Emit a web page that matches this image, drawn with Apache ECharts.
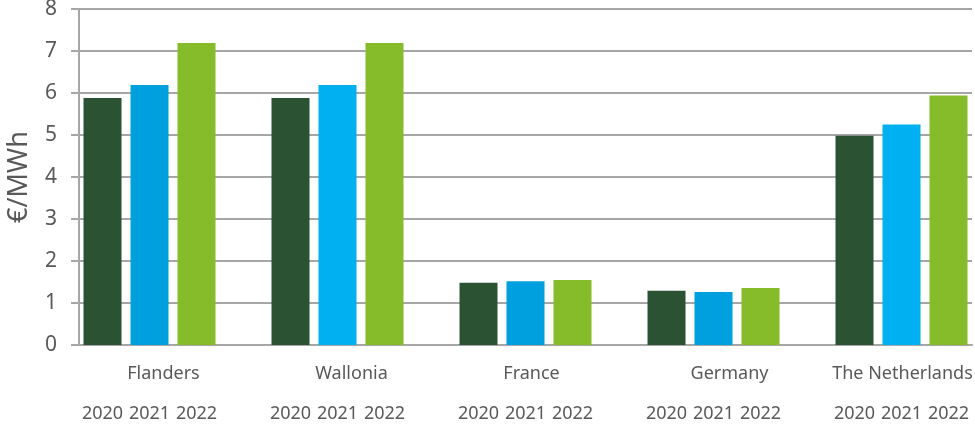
<!DOCTYPE html>
<html>
<head>
<meta charset="utf-8">
<script src="https://cdn.jsdelivr.net/npm/echarts@6/dist/echarts.min.js"></script>
<style>
    html, body { margin: 0; padding: 0; background: #fff; }
    #chart { width: 975px; height: 425px; }
</style>
</head>
<body>
<div id="chart"></div>
<script>
    // data
    const regions = ['Flanders', 'Wallonia', 'France', 'Germany', 'The Netherlands'];
    const years = ['2020', '2021', '2022'];
    const v2020 = [5.88, 5.88, 1.48, 1.29, 4.98];
    const v2021 = [6.19, 6.19, 1.52, 1.26, 5.25];
    const v2022 = [7.19, 7.19, 1.55, 1.36, 5.94];
    const yTicks = [0, 1, 2, 3, 4, 5, 6, 7, 8];

    // styles
    const green2020 = '#2C5234';
    const blue2021 = ['#00A0DF', '#00B0F0', '#00A0DF', '#00A0DF', '#00B0F0'];
    const green2022 = '#86BC29';
    const labelShift = [14, 14, 6, 16, 1];
    const textColor = '#595959';
    const lineColor = '#A6A6A6';
    const font = 'Noto Sans';

    // 3 bars per region, one empty slot between regions
    let yearCats = [];
    let regionCats = [];
    regions.forEach(function (r, i) {
        years.forEach(function (y, k) {
            yearCats.push(y);
            if (k === 1) {
                regionCats.push({value: r, textStyle: {padding: [0, 0, 0, labelShift[i] * 2]}});
            } else {
                regionCats.push('');
            }
        });
        if (i < regions.length - 1) {
            yearCats.push(' ');
            regionCats.push('');
        }
    });

    function slots(values, k, colorFn) {
        let out = yearCats.map(function () { return null; });
        values.forEach(function (v, i) {
            out[i * 4 + k] = {value: v, itemStyle: {color: colorFn(i)}};
        });
        return out;
    }

    let myChart = echarts.init(document.getElementById('chart'));
    let option = {
        animation: false,
        textStyle: {fontFamily: font},
        grid: {left: 79, right: 3, top: 9, bottom: 80, containLabel: false, outerBoundsMode: 'none'},
        xAxis: [
            {
                type: 'category',
                data: yearCats,
                position: 'bottom',
                axisLine: {show: true, lineStyle: {color: lineColor, width: 2}},
                axisTick: {show: false},
                axisLabel: {interval: 0, color: textColor, fontSize: 18, fontFamily: font, margin: 60}
            },
            {
                type: 'category',
                data: regionCats,
                position: 'bottom',
                axisLine: {show: false},
                axisTick: {show: false},
                axisLabel: {interval: 0, color: textColor, fontSize: 18, fontFamily: font, margin: 20}
            }
        ],
        yAxis: {
            type: 'value',
            min: yTicks[0],
            max: yTicks[yTicks.length - 1],
            interval: 1,
            name: '€/MWh',
            nameLocation: 'middle',
            nameGap: 46,
            nameTextStyle: {color: textColor, fontSize: 27, fontFamily: font},
            axisLine: {show: true, lineStyle: {color: lineColor, width: 2}},
            axisTick: {show: true, length: 8, lineStyle: {color: lineColor, width: 2}},
            axisLabel: {color: textColor, fontSize: 21, fontFamily: font, margin: 22},
            splitLine: {show: true, lineStyle: {color: lineColor, width: 2}}
        },
        series: [
            {
                name: '2020', type: 'bar', xAxisIndex: 0, barWidth: 38, barGap: '-100%',
                data: slots(v2020, 0, function () { return green2020; })
            },
            {
                name: '2021', type: 'bar', xAxisIndex: 0, barWidth: 38, barGap: '-100%',
                data: slots(v2021, 1, function (i) { return blue2021[i]; })
            },
            {
                name: '2022', type: 'bar', xAxisIndex: 0, barWidth: 38, barGap: '-100%',
                data: slots(v2022, 2, function () { return green2022; })
            }
        ]
    };
    myChart.setOption(option);
</script>
</body>
</html>
